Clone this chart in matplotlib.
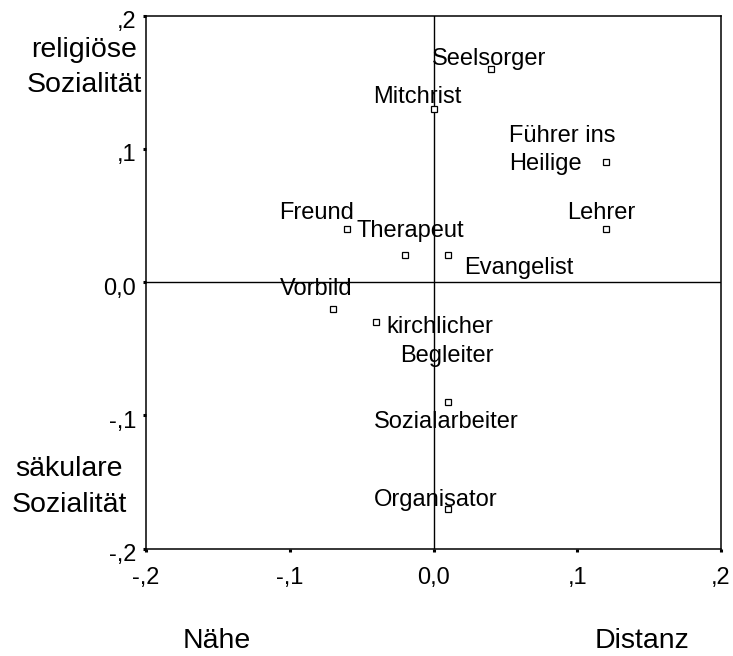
import matplotlib
matplotlib.use("Agg")
import matplotlib.pyplot as plt
from matplotlib.transforms import ScaledTranslation

plt.rcParams["font.family"] = ["Liberation Sans", "DejaVu Sans"]

# Role positions in the two-dimensional space
roles = ["Seelsorger", "Mitchrist", "Führer ins\nHeilige", "Lehrer", "Freund",
         "Therapeut", "Evangelist", "Vorbild", "kirchlicher\nBegleiter",
         "Sozialarbeiter", "Organisator"]
dim_x = [0.04, 0.00, 0.12, 0.12, -0.06, -0.02, 0.01, -0.07, -0.04, 0.01, 0.01]
dim_y = [0.16, 0.13, 0.09, 0.04, 0.04, 0.02, 0.02, -0.02, -0.03, -0.09, -0.17]

tick_values = [-0.2, -0.1, 0.0, 0.1, 0.2]
tick_labels = ["-,2", "-,1", "0,0", ",1", ",2"]

# label placement: offset (points) of first-line baseline from the marker
label_offsets = [(-42.5, 3.1), (-43.2, 4.5), (-69.6, 14.9), (-28.3, 7.2), (-49.0, 7.2),
                 (-34.8, 13.2), (11.5, -13.2), (-38.4, 9.9), (84.5, -8.1),
                 (-53.3, -18.4), (-53.3, 1.9)]
label_align = ["left", "left", "left", "left", "left", "left", "left", "left",
               "right", "left", "left"]
line_gap = 20.6

fig = plt.figure(figsize=(7.33, 6.56), dpi=100)
ax = fig.add_axes([146 / 733, 1 - 548.5 / 656, 575 / 733, 532.8 / 656])

ax.set_xlim(-0.2, 0.2)
ax.set_ylim(-0.2, 0.2)

ax.axhline(0, color="black", lw=1.0, zorder=1)
ax.axvline(0, color="black", lw=1.0, zorder=1)

ax.plot(dim_x, dim_y, linestyle="none", marker="s", markersize=5,
        markerfacecolor="white", markeredgecolor="black", markeredgewidth=0.9,
        zorder=3)

for name, x, y, (dx, dy), ha in zip(roles, dim_x, dim_y, label_offsets, label_align):
    for i, line in enumerate(name.split("\n")):
        ax.annotate(line, (x, y), xytext=(dx, dy - i * line_gap),
                    textcoords="offset points", ha=ha, va="baseline",
                    fontsize=17, color="black", zorder=2)

for s in ax.spines.values():
    s.set_linewidth(1.1)

ax.set_xticks(tick_values)
ax.set_xticklabels(tick_labels)
ax.set_yticks(tick_values)
ax.set_yticklabels(tick_labels)
ax.tick_params(axis="both", direction="out", length=2.2, width=2.2, labelsize=17)
ax.tick_params(axis="x", pad=11)
ax.tick_params(axis="y", pad=5)
for lab in ax.get_yticklabels():
    lab.set_transform(lab.get_transform() + ScaledTranslation(0, -4 / 100, fig.dpi_scale_trans))


def fig_text(px, py, s, **kw):
    fig.text(px / 733, 1 - py / 656, s, ha="center", va="baseline", fontsize=20.5, **kw)


fig_text(84, 56.7, "religiöse")
fig_text(84, 91.7, "Sozialität")
fig_text(69, 476, "säkulare")
fig_text(69, 511.7, "Sozialität")
fig_text(217, 648, "Nähe")
fig_text(642, 648, "Distanz")

fig.savefig("out.png", dpi=100)
